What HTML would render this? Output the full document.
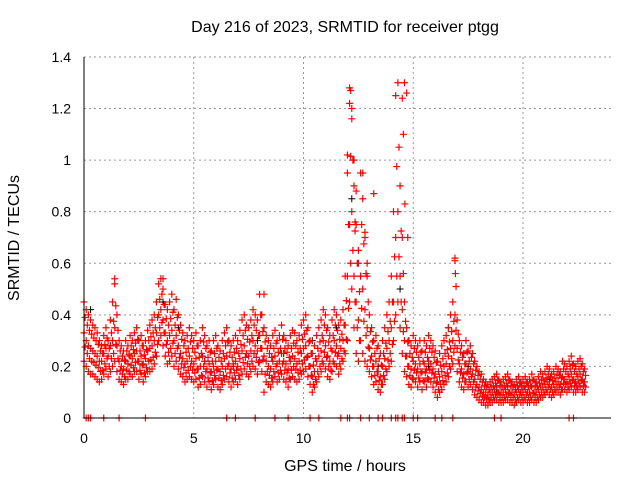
<!DOCTYPE html>
<html><head><meta charset="utf-8"><style>
body{margin:0;background:#fff;}
svg text{font-family:"Liberation Sans",sans-serif;font-size:14px;fill:#000;}
svg text.big{font-size:16px;}
</style></head><body>
<svg id="c" width="640" height="480" xmlns="http://www.w3.org/2000/svg">
<text class="big" x="345" y="32" text-anchor="middle">Day 216 of 2023, SRMTID for receiver ptgg</text>
<text class="big" x="345" y="471" text-anchor="middle">GPS time / hours</text>
<text class="big" transform="translate(19,238) rotate(-90)" text-anchor="middle">SRMTID / TECUs</text>
<g id="grid"></g>
<g id="ticks"></g>
<g id="pts"></g>
<line x1="84" y1="57" x2="84" y2="418" stroke="#000"/>
<line x1="84" y1="418" x2="611" y2="418" stroke="#000"/>
</svg>
<script>
const xTicks=[0,5,10,15,20];
const yTicks=[0,0.2,0.4,0.6,0.8,1,1.2,1.4];
const yTickLabels=["0","0.2","0.4","0.6","0.8","1","1.2","1.4"];
const step=0.1;
const hiVals=[.45,.42,.40,.38,.36,.35,.33,.30,.28,.32,.35,.30,.38,.45,.52,.40,.30,.28,.26,.30,.28,.32,.30,.33,.35,.30,.32,.28,.30,.34,.36,.38,.40,.45,.52,.54,.50,.44,.42,.45,.48,.42,.46,.40,.36,.33,.30,.32,.35,.32,.30,.33,.28,.30,.35,.32,.28,.30,.26,.30,.32,.28,.26,.30,.33,.35,.30,.28,.30,.32,.30,.34,.38,.40,.36,.35,.38,.42,.40,.38,.48,.40,.35,.32,.30,.28,.32,.34,.30,.32,.36,.32,.30,.28,.32,.34,.33,.30,.32,.36,.38,.40,.35,.30,.25,.28,.32,.35,.38,.42,.40,.35,.32,.38,.42,.40,.36,.38,.42,.55,.95,1.28,1.20,.90,.75,.60,.95,.85,.70,.55,.40,.35,.30,.32,.28,.25,.30,.35,.40,.45,.55,.80,1.25,1.30,.90,.70,.45,.35,.30,.28,.32,.30,.28,.30,.26,.30,.28,.32,.30,.28,.26,.22,.25,.28,.30,.32,.35,.40,.45,.62,.38,.30,.28,.25,.30,.26,.28,.25,.22,.20,.18,.17,.15,.14,.13,.14,.15,.16,.17,.15,.14,.15,.16,.17,.15,.14,.13,.15,.16,.14,.15,.16,.14,.15,.17,.15,.14,.16,.18,.17,.18,.20,.19,.17,.18,.20,.19,.18,.22,.21,.20,.22,.24,.21,.20,.22,.23,.21,.19];
const midVals=[.33,.30,.28,.27,.26,.25,.24,.22,.22,.25,.27,.24,.28,.30,.35,.28,.22,.20,.19,.22,.21,.24,.23,.25,.26,.22,.24,.21,.23,.26,.27,.28,.30,.33,.40,.42,.38,.33,.30,.32,.34,.30,.32,.28,.25,.23,.21,.22,.24,.22,.21,.23,.19,.20,.24,.22,.19,.21,.18,.20,.22,.19,.18,.20,.23,.24,.21,.19,.21,.22,.20,.23,.26,.28,.25,.24,.26,.30,.28,.26,.32,.27,.24,.22,.20,.19,.22,.24,.21,.22,.25,.22,.21,.19,.22,.24,.23,.21,.22,.25,.27,.28,.24,.20,.16,.18,.22,.24,.26,.30,.28,.24,.22,.26,.30,.28,.25,.27,.30,.36,.55,.75,.80,.55,.45,.38,.55,.50,.42,.35,.27,.24,.20,.22,.18,.16,.20,.23,.27,.30,.35,.45,.70,.80,.55,.42,.30,.24,.20,.19,.22,.21,.19,.21,.18,.21,.19,.22,.21,.19,.17,.14,.16,.18,.20,.21,.24,.27,.30,.40,.27,.21,.19,.17,.21,.18,.19,.17,.15,.13,.12,.11,.10,.10,.09,.10,.10,.11,.12,.10,.10,.10,.11,.12,.10,.10,.09,.10,.11,.10,.10,.11,.10,.10,.12,.10,.10,.11,.12,.12,.13,.14,.13,.12,.13,.14,.14,.13,.16,.15,.14,.16,.17,.15,.14,.16,.17,.15,.14];
const loVals=[.22,.20,.18,.17,.17,.16,.15,.14,.15,.17,.19,.16,.18,.20,.22,.18,.15,.14,.13,.15,.15,.17,.16,.18,.18,.15,.17,.14,.16,.18,.18,.19,.21,.24,.30,.32,.28,.24,.21,.22,.24,.20,.22,.19,.17,.16,.14,.15,.16,.15,.14,.15,.12,.13,.16,.14,.12,.14,.11,.13,.15,.12,.11,.13,.15,.16,.14,.12,.14,.15,.13,.15,.17,.19,.17,.16,.18,.20,.19,.17,.22,.18,.10,.14,.13,.12,.14,.16,.14,.15,.17,.15,.14,.12,.15,.16,.15,.14,.15,.17,.18,.19,.16,.13,.10,.12,.14,.16,.18,.21,.19,.16,.15,.18,.21,.20,.17,.19,.22,.25,.30,.45,.50,.35,.25,.22,.30,.25,.22,.20,.18,.16,.13,.14,.11,.10,.13,.15,.18,.20,.22,.30,.40,.45,.35,.25,.18,.16,.13,.12,.15,.14,.12,.14,.11,.14,.12,.15,.14,.12,.10,.08,.10,.11,.13,.14,.16,.19,.21,.28,.18,.14,.12,.11,.14,.12,.13,.11,.09,.08,.07,.06,.06,.05,.05,.06,.06,.07,.07,.06,.06,.06,.07,.07,.06,.06,.05,.06,.07,.06,.06,.07,.06,.06,.07,.06,.06,.07,.08,.08,.09,.10,.09,.08,.09,.10,.10,.09,.11,.11,.10,.11,.12,.10,.10,.11,.12,.10,.10];
const spikeT=[12.0,12.1,12.15,12.2,12.3,12.4,12.35,12.5,12.7,12.8,12.9,13.2,14.5,14.6,14.7,14.55,14.62,14.75,16.9,16.92,1.4,3.6,8.2];
const spikeV=[1.02,1.22,1.27,1.16,1.0,0.88,0.76,0.65,0.95,0.72,0.6,0.87,1.24,1.3,1.26,1.1,0.83,0.7,0.61,0.56,0.54,0.54,0.48];
const blackT=[0.3,1.2,2.5,3.6,4.3,5.5,6.8,7.9,9.1,10.4,11.5,12.2,12.6,13.4,14.4,14.8,15.7,16.6,17.5,18.8,19.9,21.2,22.4];
const blackV=[0.42,0.28,0.3,0.45,0.35,0.22,0.2,0.3,0.25,0.3,0.35,0.85,0.55,0.2,0.5,0.3,0.2,0.35,0.2,0.1,0.1,0.15,0.2];
const zeroT=[0.1,0.2,0.3,0.9,1.6,2.8,6.5,6.9,7.8,8.7,9.3,10.3,10.7,11.7,12.0,12.1,12.6,13.0,13.4,13.6,14.0,14.2,14.3,14.5,14.6,15.0,15.2,16.0,16.3,16.8,18.7,19.0,22.1,22.3];

const X=t=>84+t*21.95, Y=v=>418-v*257.9;
const NS="http://www.w3.org/2000/svg";
const g=document.getElementById('grid'),tk=document.getElementById('ticks'),P=document.getElementById('pts');
function mk(tag,a,par){const e=document.createElementNS(NS,tag);for(const k in a)e.setAttribute(k,a[k]);par.appendChild(e);return e;}
xTicks.forEach(t=>{
 if(t>0){const l=mk('line',{x1:X(t),x2:X(t),y1:57,y2:418,stroke:'#999','stroke-dasharray':'2,3'},g);
 
 }
 const s=mk('text',{x:X(t),y:443,'text-anchor':'middle'},tk);s.textContent=t;
 
 
});
yTicks.forEach((v,i)=>{
 if(v>0){const l=mk('line',{x1:84,x2:611,y1:Y(v),y2:Y(v),stroke:'#999','stroke-dasharray':'2,3'},g);
 
 }
 const s=mk('text',{x:71,y:Y(v)+5,'text-anchor':'end'},tk);s.textContent=yTickLabels[i];
 
 
});
let d='',db='';
function plus(t,v){const x=X(t),y=Y(v);return `M${x-3.5},${y}h7M${x},${y-3.5}v7`;}
blackT.forEach((t,i)=>{db+=plus(t,blackV[i]);});
[hiVals,midVals,loVals].forEach(arr=>arr.forEach((v,i)=>{d+=plus(i*step,v);}));
hiVals.forEach((v,i)=>{d+=plus(i*step+0.05,(v+midVals[i])/2);});
midVals.forEach((v,i)=>{d+=plus(i*step+0.05,(v+loVals[i])/2);});
spikeT.forEach((t,i)=>{d+=plus(t,spikeV[i]);});
zeroT.forEach(t=>{d+=plus(t,0);});
const pb=mk('path',{d:db,stroke:'#000','stroke-width':1,fill:'none'},P);


const pr=mk('path',{d:d,stroke:'#f00','stroke-width':1.2,fill:'none'},P);


</script>
</body></html>
